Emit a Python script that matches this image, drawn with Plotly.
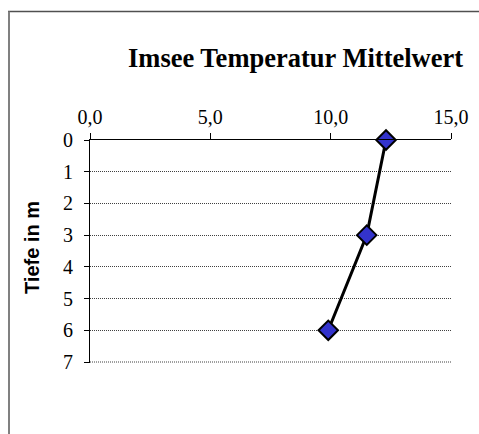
import plotly.graph_objects as go

# Data
depth_m = [0, 3, 6]
temperature = [12.3, 11.5, 9.9]
x_tick_vals = [0, 5, 10, 15]
y_tick_vals = [0, 1, 2, 3, 4, 5, 6, 7]
title_text = "Imsee Temperatur Mittelwert"
y_title = "Tiefe in m"

W, H = 479, 434

def px(x):
    return x / W

def py(y):
    return 1 - y / H

Y_MAX = 7.03
unit_y = 222 / 7
y_bottom = 140 + Y_MAX * unit_y

fig = go.Figure()
fig.add_trace(go.Scatter(
    x=temperature, y=depth_m, mode="lines+markers",
    line=dict(color="black", width=3),
    marker=dict(symbol="diamond", size=15, color="#3333CC",
                line=dict(color="black", width=2)),
    showlegend=False, cliponaxis=False,
))

GRID = dict(color="#404040", width=1, dash="1px,1px")

fig.update_layout(
    width=W, height=H,
    margin=dict(l=0, r=0, t=0, b=0, pad=0, autoexpand=False),
    paper_bgcolor="white", plot_bgcolor="white",
    separators=",.",
    font=dict(family="Liberation Serif", color="black", size=20),
    xaxis=dict(
        domain=[px(90), px(451)], range=[0, 15], side="top",
        tickvals=x_tick_vals, tickformat=".1f",
        showline=True, linecolor="black", linewidth=1,
        ticks="outside", ticklen=6, tickcolor="black", tickwidth=1,
        showgrid=False, zeroline=False, automargin=False,
        ticklabelstandoff=1,
        tickfont=dict(family="Liberation Serif", size=20, color="black"),
    ),
    yaxis=dict(
        domain=[py(y_bottom), py(140)], range=[Y_MAX, 0],
        tickvals=y_tick_vals,
        showline=True, linecolor="black", linewidth=1,
        ticks="outside", ticklen=5, tickcolor="black", tickwidth=1,
        showgrid=True, gridcolor=GRID["color"], griddash=GRID["dash"], gridwidth=1,
        zeroline=False, automargin=False,
        ticklabelstandoff=7,
        tickfont=dict(family="Liberation Serif", size=20, color="black"),
    ),
    annotations=[
        dict(
            text="<b>" + title_text + "</b>", xref="paper", yref="paper",
            x=px(295), y=py(58), xanchor="center", yanchor="middle",
            showarrow=False,
            font=dict(family="Liberation Serif", size=26.5, color="black"),
        ),
        dict(
            text="<b>" + y_title + "</b>", xref="paper", yref="paper",
            x=px(32), y=py(247), xanchor="center", yanchor="middle",
            textangle=-90, showarrow=False,
            font=dict(family="Liberation Sans", size=20, color="black"),
        ),
    ],
    shapes=[
        dict(type="line", xref="x", yref="y",
             x0=x_tick_vals[0], x1=x_tick_vals[-1],
             y0=y_tick_vals[-1], y1=y_tick_vals[-1],
             line=GRID, layer="below"),
        dict(type="line", xref="paper", yref="paper",
             x0=px(8), x1=1, y0=py(11.5), y1=py(11.5),
             line=dict(color="#505050", width=1.5)),
        dict(type="line", xref="paper", yref="paper",
             x0=px(9), x1=px(9), y0=py(11.5), y1=0,
             line=dict(color="#808080", width=2)),
    ],
)

fig.write_html(
    "out.html",
    config={"displayModeBar": False, "responsive": False},
    post_script="document.body.style.margin='0';document.body.style.overflow='hidden';",
)
